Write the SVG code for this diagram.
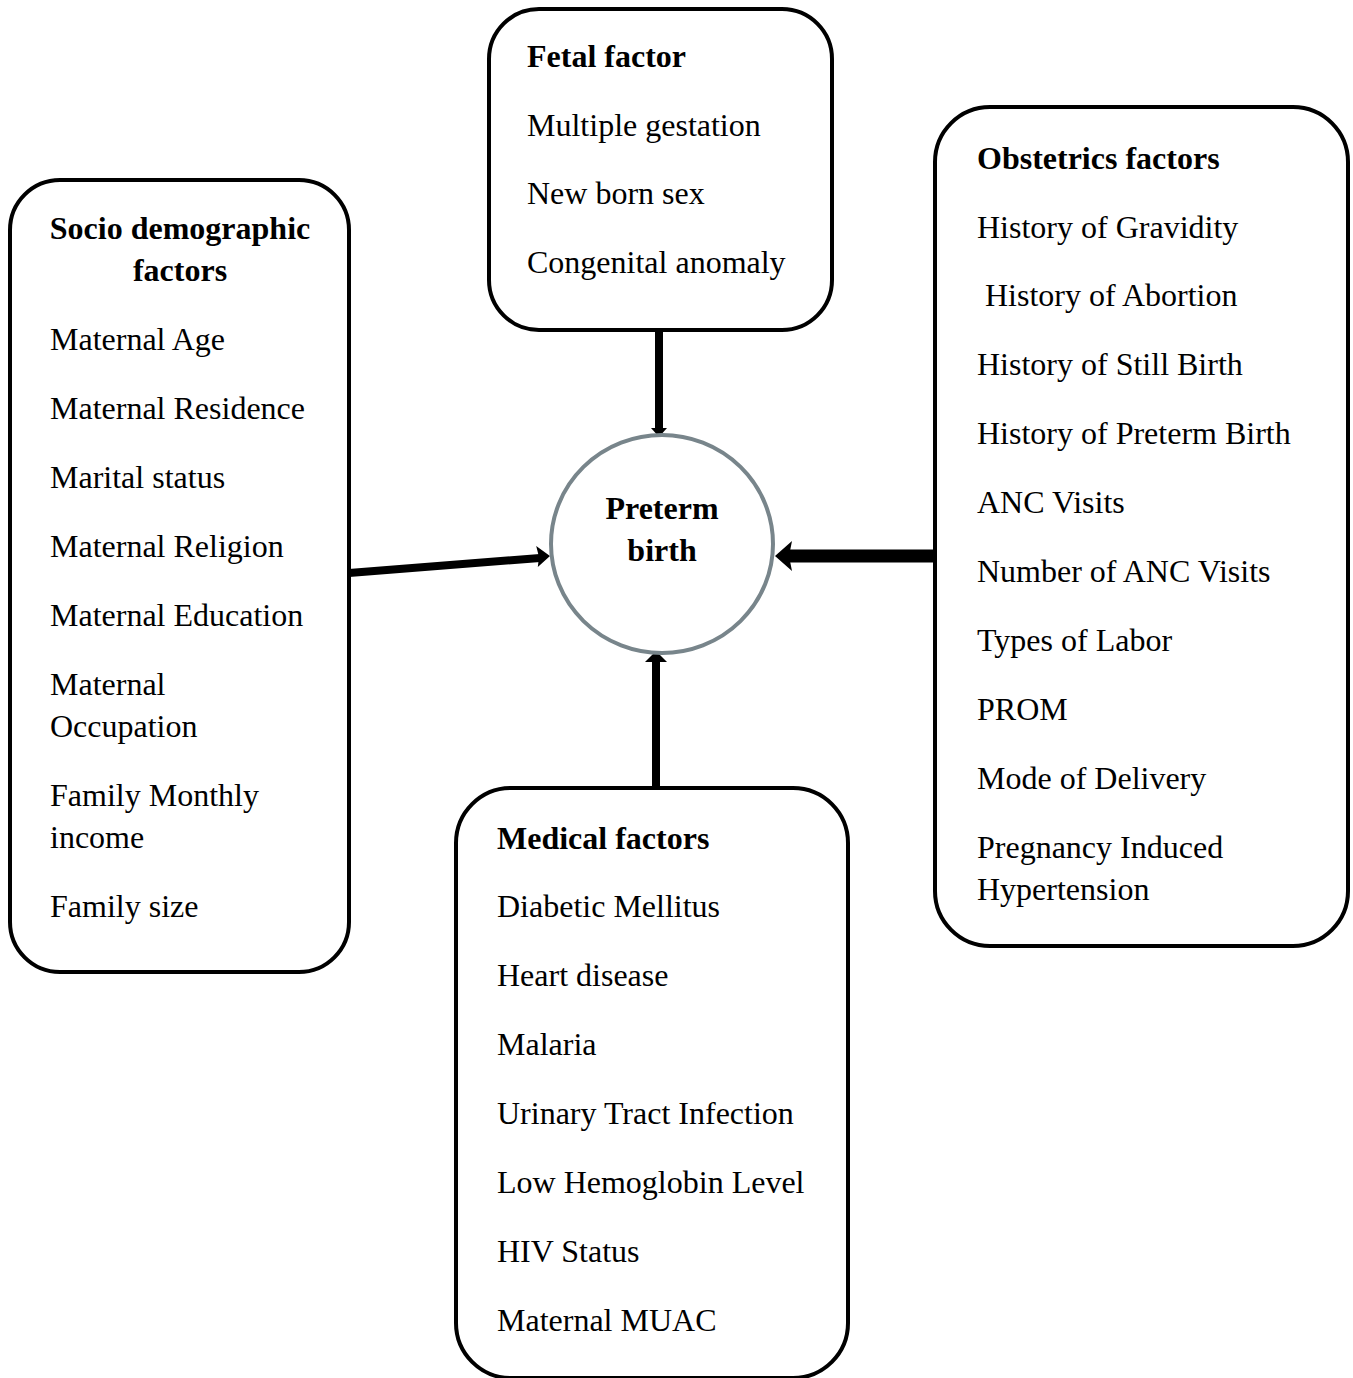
<svg xmlns="http://www.w3.org/2000/svg" width="1353" height="1378" viewBox="0 0 1353 1378">
<style>
.box{fill:#fff;stroke:#000;stroke-width:4}
.t{font-family:"Liberation Serif","Times New Roman",serif;font-size:32px;fill:#000}
.b{font-weight:bold}
.c{stroke:#000;fill:none}
.h{fill:#000;stroke:none}
</style>
<rect width="1353" height="1378" fill="#fff"/>
<g id="connectors">
<line class="c" x1="659" y1="330" x2="659" y2="430" stroke-width="8"/>
<polygon class="h" points="651,428 667,428 659,437"/>
<line class="c" x1="656" y1="790" x2="656" y2="660" stroke-width="8"/>
<polygon class="h" points="645,662 667,662 659,654 653,654"/>
<line class="c" x1="935" y1="556" x2="788" y2="556" stroke-width="13"/>
<polygon class="h" points="775,556 792,541 789,556 792,571"/>
<line class="c" x1="349" y1="573" x2="540" y2="558" stroke-width="8"/>
<polygon class="h" points="550,556 537.8,567 539,557 536.2,546"/>
</g>
<g id="fetal">
<rect class="box" x="489" y="9" width="343" height="321" rx="50"/>
<text class="t b" x="527" y="67">Fetal factor</text>
<text class="t" x="527" y="136">Multiple gestation</text>
<text class="t" x="527" y="204">New born sex</text>
<text class="t" x="527" y="273">Congenital anomaly</text>
</g>
<g id="socio">
<rect class="box" x="10" y="180" width="339" height="792" rx="50"/>
<text class="t b" x="180" y="239" text-anchor="middle">Socio demographic</text>
<text class="t b" x="180" y="281" text-anchor="middle">factors</text>
<text class="t" x="50" y="350">Maternal Age</text>
<text class="t" x="50" y="419">Maternal Residence</text>
<text class="t" x="50" y="488">Marital status</text>
<text class="t" x="50" y="557">Maternal Religion</text>
<text class="t" x="50" y="626">Maternal Education</text>
<text class="t" x="50" y="695">Maternal</text>
<text class="t" x="50" y="737">Occupation</text>
<text class="t" x="50" y="806">Family Monthly</text>
<text class="t" x="50" y="848">income</text>
<text class="t" x="50" y="917">Family size</text>
</g>
<g id="obstetrics">
<rect class="box" x="935" y="107" width="413" height="839" rx="55"/>
<text class="t b" x="977" y="169">Obstetrics factors</text>
<text class="t" x="977" y="238">History of Gravidity</text>
<text class="t" x="985" y="306">History of Abortion</text>
<text class="t" x="977" y="375">History of Still Birth</text>
<text class="t" x="977" y="444">History of Preterm Birth</text>
<text class="t" x="977" y="513">ANC Visits</text>
<text class="t" x="977" y="582">Number of ANC Visits</text>
<text class="t" x="977" y="651">Types of Labor</text>
<text class="t" x="977" y="720">PROM</text>
<text class="t" x="977" y="789">Mode of Delivery</text>
<text class="t" x="977" y="858">Pregnancy Induced</text>
<text class="t" x="977" y="900">Hypertension</text>
</g>
<g id="medical">
<rect class="box" x="456" y="788" width="392" height="590" rx="55"/>
<text class="t b" x="497" y="849">Medical factors</text>
<text class="t" x="497" y="917">Diabetic Mellitus</text>
<text class="t" x="497" y="986">Heart disease</text>
<text class="t" x="497" y="1055">Malaria</text>
<text class="t" x="497" y="1124">Urinary Tract Infection</text>
<text class="t" x="497" y="1193">Low Hemoglobin Level</text>
<text class="t" x="497" y="1262">HIV Status</text>
<text class="t" x="497" y="1331">Maternal MUAC</text>
</g>
<g id="preterm">
<ellipse cx="662" cy="544" rx="111" ry="109" fill="#fff" stroke="#78858b" stroke-width="4"/>
<text class="t b" x="662" y="519" text-anchor="middle">Preterm</text>
<text class="t b" x="662" y="561" text-anchor="middle">birth</text>
</g>
</svg>
